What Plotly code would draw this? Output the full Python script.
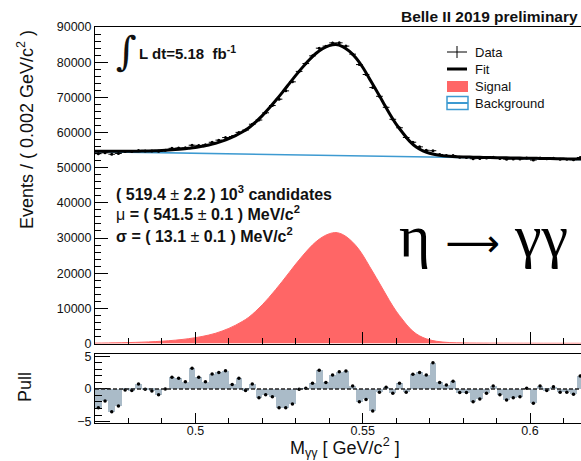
import plotly.graph_objects as go

# ---- binning (0.002 GeV/c^2 bins) ----
bin_centers = [round(0.471 + 0.002 * i, 3) for i in range(73)]
curve_mass = [round(0.470 + 0.002 * i, 3) for i in range(74)]

# ---- observed candidates per bin ----
data_counts = [
    53980, 54215, 53830, 54040, 54620, 54610, 54880, 54730, 54725, 54650,
    54955, 55500, 55610, 55660, 56385, 56335, 56515, 57220, 57830, 58565,
    58855, 60035, 60690, 62355, 63550, 65605, 67665, 69480, 71840, 74410,
    77370, 79610, 81800, 83980, 84555, 85485, 85500, 84570, 82275, 79315,
    76490, 72785, 70290, 67160, 63750, 61350, 58585, 57235, 55920, 54940,
    54820, 53755, 53450, 53455, 52970, 52910, 52540, 52590, 52755, 52970,
    52625, 52405, 52450, 52450, 52715, 52155, 52730, 52540, 52645, 52415,
    52385, 52285, 52895,
]

# ---- fit components evaluated along the mass axis ----
signal_curve = [
    110, 130, 155, 185, 220, 260, 315, 380, 455, 545,
    650, 790, 950, 1140, 1380, 1650, 2000, 2400, 2900, 3550,
    4300, 5200, 6250, 7500, 9150, 11000, 13100, 15350, 17700, 20150,
    22600, 24900, 27050, 28900, 30300, 31200, 31550, 31000, 29700, 27800,
    25200, 22000, 18800, 15500, 12200, 9200, 6700, 4400, 2750, 1700,
    1050, 640, 400, 270, 200, 160, 140, 125, 115, 105,
    100, 95, 90, 85, 80, 78, 75, 72, 70, 68,
    66, 64, 62, 60,
]
background_curve = [
    54550, 54520, 54490, 54460, 54430, 54400, 54370, 54340, 54310, 54280,
    54250, 54220, 54190, 54160, 54130, 54100, 54070, 54040, 54010, 53980,
    53950, 53920, 53890, 53860, 53830, 53800, 53770, 53740, 53710, 53680,
    53650, 53620, 53590, 53560, 53530, 53500, 53470, 53440, 53410, 53380,
    53350, 53320, 53290, 53260, 53230, 53200, 53170, 53140, 53110, 53080,
    53050, 53020, 52990, 52960, 52930, 52900, 52870, 52840, 52810, 52780,
    52750, 52720, 52690, 52660, 52630, 52600, 52570, 52540, 52510, 52480,
    52450, 52420, 52390, 52360,
]
fit_curve = [s + b for s, b in zip(signal_curve, background_curve)]

# ---- pull per bin ----
pulls = [
    -2.9, -1.85, -3.5, -2.6, -0.15, -0.25, 0.75, -0.05, -0.3, -0.9,
    0.0, 1.8, 1.65, 1.1, 3.2, 1.8, 1.1, 2.3, 2.55, 2.8,
    0.7, 1.65, -0.25, 0.75, -1.35, -0.9, -1.2, -2.9, -2.9, -2.3,
    -0.05, 0.1, 0.87, 2.9, 1.0, 2.15, 2.65, 2.75, 0.45, -1.95,
    -1.6, -3.4, -0.5, 0.25, -0.65, 0.87, -0.5, 2.25, 2.55, 2.15,
    4.05, 1.0, 0.6, 1.2, -0.55, -0.55, -1.95, -1.55, -0.65, 0.45,
    -0.9, -1.7, -1.35, -1.2, 0.1, -2.2, 0.45, -0.25, 0.35, -0.5,
    -0.5, -0.8, 2.0,
]

x_range = [0.47, 0.61524]
pull_range = [-5.23, 5.38]

SIG_COLOR = "#ff6666"
BKG_COLOR = "#3d9ad1"
PULL_COLOR = "#aabbc8"
FONT = "Liberation Sans"
TXT = "#111111"

W, H = 581, 461
ML, MR, MT, MB = 95, 0, 27, 38
PW, PH = W - ML - MR, H - MT - MB


def px(x):
    return (x - ML) / PW


def py(y):
    return (H - MB - y) / PH


fig = go.Figure()

fig.add_trace(go.Scatter(
    x=curve_mass, y=signal_curve, mode="lines", fill="tozeroy",
    fillcolor=SIG_COLOR, line=dict(color=SIG_COLOR, width=1, shape="spline"),
    xaxis="x", yaxis="y", showlegend=False, hoverinfo="skip"))
fig.add_trace(go.Scatter(
    x=curve_mass, y=background_curve, mode="lines",
    line=dict(color=BKG_COLOR, width=1.6), xaxis="x", yaxis="y",
    showlegend=False))
fig.add_trace(go.Scatter(
    x=curve_mass, y=fit_curve, mode="lines",
    line=dict(color="black", width=3, shape="spline"), xaxis="x", yaxis="y",
    showlegend=False))
fig.add_trace(go.Scatter(
    x=bin_centers, y=data_counts, mode="markers",
    marker=dict(color="black", size=3),
    error_x=dict(type="constant", value=0.001, width=0, thickness=1, color="black"),
    error_y=dict(type="sqrt", width=0, thickness=1, color="black"),
    xaxis="x", yaxis="y", showlegend=False))

# pull panel
fig.add_trace(go.Bar(
    x=bin_centers, y=pulls, width=0.002, marker=dict(color=PULL_COLOR, line=dict(width=0)),
    xaxis="x2", yaxis="y2", showlegend=False))
fig.add_trace(go.Scatter(
    x=bin_centers, y=pulls, mode="markers", marker=dict(color="black", size=3.5),
    xaxis="x2", yaxis="y2", showlegend=False))

main_bottom = py(343.5)
pull_top = py(354)

axis_common = dict(showgrid=False, zeroline=False, showline=True, linecolor="black",
                   linewidth=1, ticks="inside", tickcolor="black",
                   tickfont=dict(family=FONT, size=12.5, color=TXT))

fig.update_layout(
    width=W, height=H, margin=dict(l=ML, r=MR, t=MT, b=MB),
    paper_bgcolor="white", plot_bgcolor="white", bargap=0,
    xaxis=dict(**axis_common, domain=[0, 1], range=x_range, anchor="y",
               mirror=True, showticklabels=False, dtick=0.05, tick0=0.5,
               ticklen=12, minor=dict(dtick=0.01, ticklen=6, ticks="inside",
                                      tickcolor="black")),
    yaxis=dict(**axis_common, domain=[main_bottom, 1], range=[0, 90000],
               anchor="x", dtick=10000, tickformat="d", ticklen=13,
               minor=dict(dtick=2000, ticklen=6, ticks="inside", tickcolor="black")),
    xaxis2=dict(**axis_common, domain=[0, 1], range=x_range, anchor="y2",
                mirror=True, dtick=0.05, tick0=0.5, ticklen=10, ticklabelstandoff=-4,
                minor=dict(dtick=0.01, ticklen=5, ticks="inside", tickcolor="black")),
    yaxis2=dict(**axis_common, domain=[0, pull_top], range=pull_range,
                anchor="x2", tickvals=[-5, 0, 5], ticklen=15,
                minor=dict(dtick=1, ticklen=7, ticks="inside", tickcolor="black")),
)

# dashed zero line in pull panel
fig.add_shape(type="line", xref="x2 domain", yref="y2", x0=0, x1=1, y0=0, y1=0,
              line=dict(color="#222222", width=1.3, dash="4px,2px"))

# legend glyphs
legend_shapes = [
    dict(type="line", x0=px(447), x1=px(467), y0=py(52), y1=py(52),
         line=dict(color="black", width=1)),
    dict(type="line", x0=px(457), x1=px(457), y0=py(46), y1=py(58),
         line=dict(color="black", width=1)),
    dict(type="line", x0=px(447), x1=px(467), y0=py(69), y1=py(69),
         line=dict(color="black", width=3)),
    dict(type="rect", x0=px(447), x1=px(468), y0=py(81), y1=py(92),
         fillcolor=SIG_COLOR, line=dict(width=0)),
    dict(type="rect", x0=px(447), x1=px(468), y0=py(96.5), y1=py(109.5),
         line=dict(color=BKG_COLOR, width=1.5)),
    dict(type="line", x0=px(447), x1=px(468), y0=py(103), y1=py(103),
         line=dict(color=BKG_COLOR, width=2)),
]
for s in legend_shapes:
    fig.add_shape(xref="paper", yref="paper", **s)

legend_labels = ["Data", "Fit", "Signal", "Background"]
legend_rows = [52, 69, 86, 103]


def note(text, x, y, size, xanchor="left", family=FONT, angle=0, color=TXT):
    fig.add_annotation(text=text, x=px(x), y=py(y), xref="paper", yref="paper",
                       xanchor=xanchor, yanchor="middle", showarrow=False,
                       textangle=angle, font=dict(family=family, size=size, color=color))


for lab, row in zip(legend_labels, legend_rows):
    note(lab, 473, row, 13)

note("<b>Belle II 2019 preliminary</b>", 580, 16, 15.5, xanchor="right")
note("\u222b", 126.5, 51, 40, xanchor="center", family="DejaVu Serif")
note("<b>L dt=5.18\u00a0\u00a0fb<sup>-1</sup></b>", 137, 52, 15)

note("<b>( 519.4 </b>\u00b1<b> 2.2 ) 10<sup>3</sup> candidates</b>", 114, 192.5, 16)
note("\u03bc<b> = ( 541.5 </b>\u00b1<b> 0.1 ) MeV/c<sup>2</sup></b>", 114, 213.3, 16)
note("<b>\u03c3 = ( 13.1 </b>\u00b1<b> 0.1 ) MeV/c<sup>2</sup></b>", 114, 235, 16)

note("\u03b7\u00a0<span style='font-family:DejaVu Sans;font-size:38px'>\u27f6</span>\u00a0\u03b3\u03b3",
     483, 236, 60, xanchor="center", family="Liberation Serif", color="black")

note("Events / ( 0.002 GeV/c<sup>2</sup> )", 25, 130, 18, xanchor="center", angle=-90)
note("Pull", 25, 387, 18, xanchor="center", angle=-90)
note("M<sub>\u03b3\u03b3</sub> [ GeV/c<sup>2</sup> ]", 345, 447, 18, xanchor="center")

fig.write_html("out.html")
